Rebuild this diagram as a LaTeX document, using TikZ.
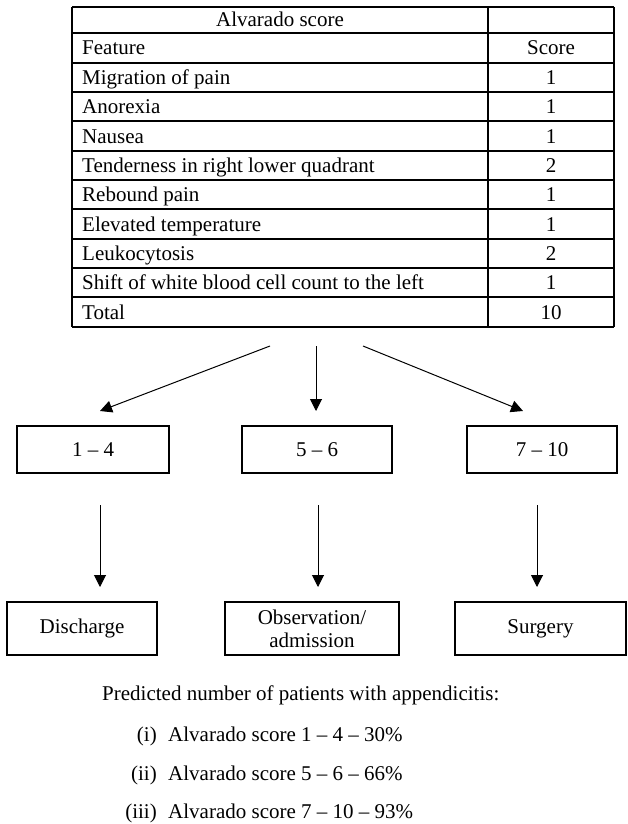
\documentclass[tikz,border=0pt]{standalone}
\usepackage{fontspec}
\setmainfont{Liberation Serif}
\usetikzlibrary{arrows.meta}
\begin{document}
\begin{tikzpicture}[x=1pt,y=-1pt,
  every node/.style={font=\fontsize{21}{23}\selectfont, inner sep=0pt, text=black},
  gridline/.style={draw=black, line width=1.1pt},
  celltext/.style={anchor=base west},
  numtext/.style={anchor=base},
  box/.style={draw=black, line width=1.1pt, minimum height=47pt, align=center},
  arr/.style={draw=black, line width=1pt, -{Triangle[length=12pt,width=12pt]}}
]
\useasboundingbox (0,0) rectangle (627,824);

% table grid
\foreach \yy in {7,33,63,92,121,151,180,209,239,268,297,327}
  \draw[gridline] (72,\yy) -- (614,\yy);
\foreach \xx in {72,488,614}
  \draw[gridline] (\xx,7) -- (\xx,327);

% table text
\node[numtext] (head) at (280,27) {Alvarado score};
\node[celltext] (f0) at (82,55) {Feature};
\node[numtext] (s0) at (551,55) {Score};
\node[celltext] (f1) at (82,84.5) {Migration of pain};
\node[numtext] (s1) at (551,84.5) {1};
\node[celltext] (f2) at (82,113.5) {Anorexia};
\node[numtext] (s2) at (551,113.5) {1};
\node[celltext] (f3) at (82,143) {Nausea};
\node[numtext] (s3) at (551,143) {1};
\node[celltext] (f4) at (82,172.5) {Tenderness in right lower quadrant};
\node[numtext] (s4) at (551,172.5) {2};
\node[celltext] (f5) at (82,201.5) {Rebound pain};
\node[numtext] (s5) at (551,201.5) {1};
\node[celltext] (f6) at (82,231) {Elevated temperature};
\node[numtext] (s6) at (551,231) {1};
\node[celltext] (f7) at (82,260.5) {Leukocytosis};
\node[numtext] (s7) at (551,260.5) {2};
\node[celltext] (f8) at (82,289.5) {Shift of white blood cell count to the left};
\node[numtext] (s8) at (551,289.5) {1};
\node[celltext] (f9) at (82,319) {Total};
\node[numtext] (s9) at (551,319) {10};

% score range boxes
\node[box, minimum width=152pt] (b1) at (93,449.5) {1 -- 4};
\node[box, minimum width=150pt] (b2) at (317,449.5) {5 -- 6};
\node[box, minimum width=150pt] (b3) at (542,449.5) {7 -- 10};

% outcome boxes
\node[box, minimum width=150pt, minimum height=53pt] (d1) at (82,628.5) {Discharge};
\node[box, minimum width=174pt, minimum height=53pt] (d2) at (312,628.5) {Observation/\\admission};
\node[box, minimum width=171pt, minimum height=53pt] (d3) at (540.5,628.5) {Surgery};

% arrows from table
\coordinate (a1s) at (270,346);
\coordinate (a1e) at (100,411);
\coordinate (a2s) at (316,346);
\coordinate (a2e) at (316,411);
\coordinate (a3s) at (363,346);
\coordinate (a3e) at (523,411);
\draw[arr] (a1s) -- (a1e);
\draw[arr] (a2s) -- (a2e);
\draw[arr] (a3s) -- (a3e);

% arrows to outcomes
\coordinate (c1s) at (100,505);
\coordinate (c1e) at (100,587);
\coordinate (c2s) at (318,505);
\coordinate (c2e) at (318,587);
\coordinate (c3s) at (537,505);
\coordinate (c3e) at (537,587);
\draw[arr] (c1s) -- (c1e);
\draw[arr] (c2s) -- (c2e);
\draw[arr] (c3s) -- (c3e);

% notes
\node[anchor=base west] (pred) at (102,700) {Predicted number of patients with appendicitis:};
\node[anchor=base east] (l1) at (157,741) {(i)};
\node[anchor=base west] (i1) at (168,741) {Alvarado score 1 -- 4 -- 30\%};
\node[anchor=base east] (l2) at (157,780) {(ii)};
\node[anchor=base west] (i2) at (168,780) {Alvarado score 5 -- 6 -- 66\%};
\node[anchor=base east] (l3) at (157,818) {(iii)};
\node[anchor=base west] (i3) at (168,818) {Alvarado score 7 -- 10 -- 93\%};
\end{tikzpicture}
\end{document}
